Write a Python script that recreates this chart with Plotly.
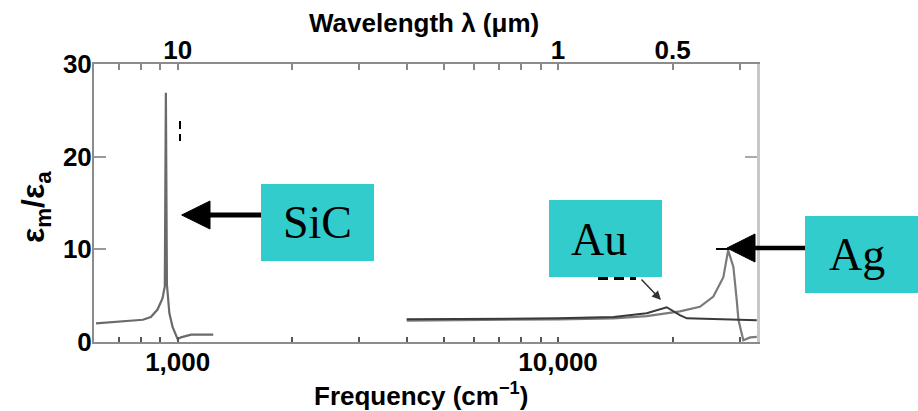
import plotly.graph_objects as go

# Resonance spectra (ratio vs. frequency in cm^-1)
sic_freq = [610, 700, 810, 850, 885, 912, 925, 931, 937, 951, 970, 1000, 1020, 1085, 1160, 1240]
sic_val = [2.0, 2.2, 2.4, 2.7, 3.5, 4.7, 6.0, 26.9, 6.2, 3.1, 1.6, 0.3, 0.5, 0.8, 0.8, 0.8]

au_freq = [4000, 7000, 10000, 14000, 17100, 19300, 20900, 21800, 25600, 33300]
au_val = [2.45, 2.5, 2.55, 2.7, 3.1, 3.75, 2.9, 2.55, 2.45, 2.35]

ag_freq = [4000, 7000, 10000, 14000, 17100, 20900, 23600, 25600, 27200, 28000,
           28900, 29500, 29800, 30400, 30700, 32000, 33300]
ag_val = [2.3, 2.35, 2.45, 2.55, 2.8, 3.3, 3.8, 4.9, 7.0, 9.9,
          8.1, 4.5, 2.4, 0.9, 0.2, 0.5, 0.55]

# Axis ticks
freq_ticks = [700, 800, 900, 1000, 2000, 3000, 4000, 5000, 6000, 7000, 8000, 9000,
              10000, 20000, 30000]
freq_labels = {1000: "1,000", 10000: "10,000"}
wave_labels = {1000: "10", 10000: "1", 20000: "0.5"}
y_ticks = [0, 10, 20, 30]

W, H = 918, 411
L, R, T, B = 94, 757, 64, 342


def px(x):
    return (x - L) / (R - L)


def py(y):
    return (B - y) / (B - T)


tick_font = dict(family="Liberation Sans", size=26, color="black", weight="bold")
axis_grey = "#8c8c8c"

fig = go.Figure()
fig.add_trace(go.Scatter(x=sic_freq, y=sic_val, mode="lines",
                         line=dict(color="#6a6a6a", width=2.2), hoverinfo="skip"))
fig.add_trace(go.Scatter(x=ag_freq, y=ag_val, mode="lines",
                         line=dict(color="#7a7a7a", width=2.2), hoverinfo="skip"))
fig.add_trace(go.Scatter(x=au_freq, y=au_val, mode="lines",
                         line=dict(color="#3a3a3a", width=2), hoverinfo="skip"))
# carrier trace for the top / right axes
fig.add_trace(go.Scatter(x=[1000], y=[None], xaxis="x2", yaxis="y2",
                         mode="lines", hoverinfo="skip"))

xr = [2.78, 4.523]
fig.update_layout(
    width=W, height=H,
    margin=dict(l=L, r=W - R, t=T, b=H - B),
    paper_bgcolor="white", plot_bgcolor="white",
    showlegend=False,
    xaxis=dict(type="log", range=xr, showgrid=False, zeroline=False,
               showline=True, linecolor=axis_grey, linewidth=2,
               ticks="inside", ticklen=5, tickwidth=2, tickcolor="#555",
               tickvals=freq_ticks,
               ticktext=[freq_labels.get(v, "") for v in freq_ticks],
               tickfont=tick_font, ticklabelstandoff=-4),
    xaxis2=dict(type="log", range=xr, overlaying="x", side="top", anchor="y2",
                showgrid=False, zeroline=False,
                showline=True, linecolor=axis_grey, linewidth=2,
                ticks="inside", ticklen=6, tickwidth=2, tickcolor="#888",
                tickvals=freq_ticks,
                ticktext=[wave_labels.get(v, "") for v in freq_ticks],
                tickfont=tick_font, ticklabelstandoff=-7),
    yaxis=dict(range=[0, 30], showgrid=False, zeroline=False,
               showline=True, linecolor=axis_grey, linewidth=2,
               ticks="inside", ticklen=12, tickwidth=2, tickcolor="#999",
               tickvals=y_ticks, ticktext=[str(v) for v in y_ticks],
               tickfont=tick_font, ticklabelstandoff=-5),
    yaxis2=dict(range=[0, 30], overlaying="y", side="right", anchor="x2",
                showgrid=False, zeroline=False,
                showline=True, linecolor="#c8c8c8", linewidth=3,
                ticks="inside", ticklen=12, tickwidth=2, tickcolor="#aaa",
                tickvals=y_ticks, showticklabels=False),
)

# Axis titles
fig.add_annotation(x=px(421), y=py(394), xref="paper", yref="paper",
                   text="Frequency (cm<sup>\u22121</sup>)", showarrow=False,
                   font=tick_font, xanchor="center", yanchor="middle")
fig.add_annotation(x=px(424), y=py(23), xref="paper", yref="paper",
                   text="Wavelength \u03bb (\u03bcm)", showarrow=False,
                   font=tick_font, xanchor="center", yanchor="middle")
fig.add_annotation(x=px(35), y=py(207), xref="paper", yref="paper",
                   text="\u03b5<sub>m</sub>/\u03b5<sub>a</sub>", showarrow=False,
                   textangle=-90, font=dict(family="Liberation Sans", size=32,
                                            color="black", weight="bold"),
                   xanchor="center", yanchor="middle")

box_fill = "#33cccc"
label_font = dict(family="Liberation Serif", size=46, color="black")
boxes = [("SiC", 261, 184, 374, 261, 317, 222),
         ("Au", 549, 200, 662, 277, 599, 239),
         ("Ag", 805, 216, 918, 293, 857, 255)]

# dashed stub beneath the Au box
fig.add_shape(type="line", xref="paper", yref="paper",
              x0=px(598), x1=px(636), y0=py(278.5), y1=py(278.5),
              line=dict(color="black", width=3, dash="10px,6px"))

for name, x0, y0, x1, y1, cx, cy in boxes:
    fig.add_shape(type="rect", xref="paper", yref="paper",
                  x0=px(x0), x1=px(x1), y0=py(y0), y1=py(y1),
                  fillcolor=box_fill, line=dict(width=0))
    fig.add_annotation(x=px(cx), y=py(cy), xref="paper", yref="paper",
                       text=name, showarrow=False, font=label_font,
                       xanchor="center", yanchor="middle")


def big_arrow(tip_x, tip_y, base_x, tail_x, half=14, shaft=5):
    fig.add_shape(type="line", xref="paper", yref="paper",
                  x0=px(base_x - 2), x1=px(tail_x), y0=py(tip_y), y1=py(tip_y),
                  line=dict(color="black", width=shaft))
    path = (f"M {px(tip_x)},{py(tip_y)} L {px(base_x)},{py(tip_y - half)} "
            f"L {px(base_x)},{py(tip_y + half)} Z")
    fig.add_shape(type="path", xref="paper", yref="paper", path=path,
                  fillcolor="black", line=dict(color="black", width=1))


big_arrow(181.7, 215, 210, 261, half=14, shaft=5)
big_arrow(727, 248, 755, 805, half=14, shaft=4.5)

# thin stub just left of the Ag arrow tip
fig.add_shape(type="line", xref="paper", yref="paper",
              x0=px(716), x1=px(730), y0=py(249), y1=py(249),
              line=dict(color="black", width=2))

# small dashed mark to the right of the SiC peak
fig.add_shape(type="line", xref="paper", yref="paper",
              x0=px(180), x1=px(180), y0=py(121), y1=py(141),
              line=dict(color="black", width=2, dash="8px,5px"))

# Au pointer
fig.add_annotation(x=px(661), y=py(300), xref="paper", yref="paper",
                   ax=-21, ay=-22, text="", showarrow=True,
                   arrowhead=2, arrowsize=1.2, arrowwidth=1.5,
                   arrowcolor="#333")

fig.write_html("out.html")
